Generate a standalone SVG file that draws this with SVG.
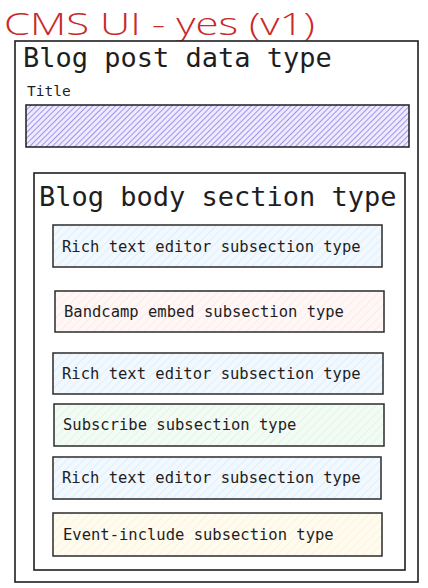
<svg xmlns="http://www.w3.org/2000/svg" width="428" height="588" viewBox="0 0 428 588">
<defs>
<pattern id="hPurple" patternUnits="userSpaceOnUse" width="4" height="4" patternTransform="rotate(45)">
<rect width="4" height="4" fill="#eeeaff"/>
<line x1="0" y1="0" x2="0" y2="4" stroke="#9386e6" stroke-width="1.7"/>
</pattern>
<pattern id="hBlue" patternUnits="userSpaceOnUse" width="6" height="6" patternTransform="rotate(45)">
<rect width="6" height="6" fill="#f1f8fe"/>
<line x1="0" y1="0" x2="0" y2="6" stroke="#d2e7f8" stroke-width="1"/>
</pattern>
<pattern id="hPink" patternUnits="userSpaceOnUse" width="6" height="6" patternTransform="rotate(45)">
<rect width="6" height="6" fill="#fff6f6"/>
<line x1="0" y1="0" x2="0" y2="6" stroke="#fbe0e0" stroke-width="1"/>
</pattern>
<pattern id="hGreen" patternUnits="userSpaceOnUse" width="6" height="6" patternTransform="rotate(45)">
<rect width="6" height="6" fill="#f2fbf4"/>
<line x1="0" y1="0" x2="0" y2="6" stroke="#d6f0dc" stroke-width="1"/>
</pattern>
<pattern id="hYellow" patternUnits="userSpaceOnUse" width="6" height="6" patternTransform="rotate(45)">
<rect width="6" height="6" fill="#fffbee"/>
<line x1="0" y1="0" x2="0" y2="6" stroke="#f8eccc" stroke-width="1"/>
</pattern>
</defs>
<style>
.frame{fill:#fff;stroke:#1e1e1e;stroke-width:1.6}
.sub{stroke:#2b2b2b;stroke-width:1.5}
.mono{font-family:"DejaVu Sans Mono","Liberation Mono",monospace;fill:#1e1e1e}
.big{font-size:27px}
.small{font-size:15.5px}
.hand{font-family:"Open Sans","DejaVu Sans",sans-serif;font-weight:300;font-size:31px;fill:#c92a2a}
</style>
<rect width="428" height="588" fill="#fff"/>
<g id="heading">
<text class="hand" x="4" y="35" textLength="311" lengthAdjust="spacingAndGlyphs">CMS UI - yes (v1)</text>
</g>
<g id="blog-post">
<rect class="frame" x="15" y="41" width="403" height="541"/>
<text class="mono big" x="23" y="67">Blog post data type</text>
</g>
<g id="title-field">
<text class="mono" x="27" y="96" font-size="14.5">Title</text>
<rect x="26" y="105" width="383" height="42" fill="url(#hPurple)" stroke="#1e1e1e" stroke-width="1.5"/>
</g>
<g id="blog-body">
<rect class="frame" x="34" y="173" width="371" height="397"/>
<text class="mono big" x="39" y="206">Blog body section type</text>
</g>
<g id="sub1">
<rect class="sub" x="53" y="225" width="329" height="42" fill="url(#hBlue)"/>
<text class="mono small" x="62" y="252">Rich text editor subsection type</text>
</g>
<g id="sub2">
<rect class="sub" x="55" y="291" width="329" height="41" fill="url(#hPink)"/>
<text class="mono small" x="64" y="317">Bandcamp embed subsection type</text>
</g>
<g id="sub3">
<rect class="sub" x="53" y="353" width="330" height="41" fill="url(#hBlue)"/>
<text class="mono small" x="62" y="379">Rich text editor subsection type</text>
</g>
<g id="sub4">
<rect class="sub" x="54" y="404" width="330" height="42" fill="url(#hGreen)"/>
<text class="mono small" x="63" y="430">Subscribe subsection type</text>
</g>
<g id="sub5">
<rect class="sub" x="53" y="457" width="328" height="42" fill="url(#hBlue)"/>
<text class="mono small" x="62" y="483">Rich text editor subsection type</text>
</g>
<g id="sub6">
<rect class="sub" x="53" y="513" width="329" height="43" fill="url(#hYellow)"/>
<text class="mono small" x="63" y="540">Event-include subsection type</text>
</g>
<g id="connectors"/>
</svg>
